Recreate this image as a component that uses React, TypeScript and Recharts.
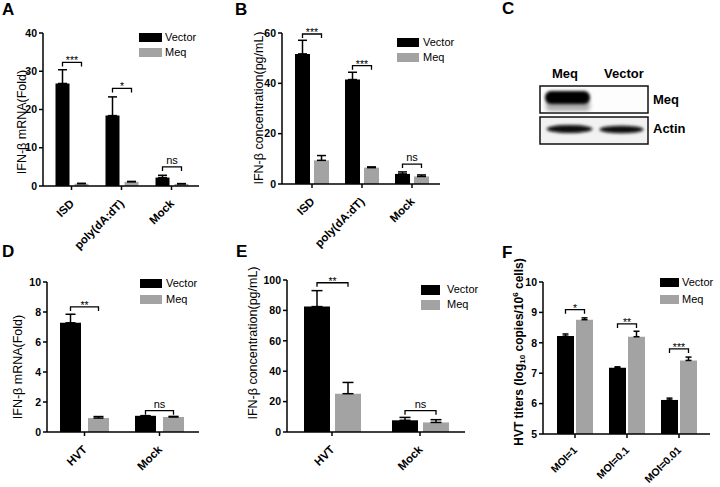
import React from 'react';
import { BarChart, Bar, XAxis, YAxis, ErrorBar, LabelList, Legend } from 'recharts';

const FONT = '"Liberation Sans", Arial, Helvetica, sans-serif';
const BLACK = '#000000';
const GREY = '#a3a3a3';
const seriesOrder = ['Vector', 'Meq'];

// panel A - IFN-b mRNA, DNA stimuli
const catsA = ['ISD', 'poly(dA:dT)', 'Mock'];
const vecA = [26.8, 18.4, 2.2];
const vecErrA = [3.6, 4.9, 0.6];
const meqA = [0.6, 1.1, 0.55];
const meqErrA = [0.1, 0.1, 0.08];
const sigA = ['***', '*', 'ns'];
const sigLevelA = [32.3, 25.5, 5.0];
const ticksA = [0, 10, 20, 30, 40];

// panel B - IFN-b protein, DNA stimuli
const catsB = ['ISD', 'poly(dA:dT)', 'Mock'];
const vecB = [51.7, 41.5, 4.0];
const vecErrB = [5.4, 2.9, 0.8];
const meqB = [9.4, 6.5, 3.0];
const meqErrB = [1.9, 0.3, 0.6];
const sigB = ['***', '***', 'ns'];
const sigLevelB = [59.6, 47.0, 7.9];
const ticksB = [0, 20, 40, 60];

// panel D - IFN-b mRNA, HVT
const catsD = ['HVT', 'Mock'];
const vecD = [7.28, 1.08];
const vecErrD = [0.57, 0.01];
const meqD = [0.93, 1.0];
const meqErrD = [0.1, 0.04];
const sigD = ['**', 'ns'];
const sigLevelD = [8.34, 1.42];
const ticksD = [0, 2, 4, 6, 8, 10];

// panel E - IFN-b protein, HVT
const catsE = ['HVT', 'Mock'];
const vecE = [82.5, 7.7];
const vecErrE = [10.5, 1.9];
const meqE = [25.2, 6.3];
const meqErrE = [7.4, 1.8];
const sigE = ['**', 'ns'];
const sigLevelE = [98.2, 14.0];
const ticksE = [0, 20, 40, 60, 80, 100];

// panel F - HVT titers
const catsF = ['MOI=1', 'MOI=0.1', 'MOI=0.01'];
const vecF = [8.22, 7.18, 6.12];
const vecErrF = [0.07, 0.03, 0.06];
const meqF = [8.76, 8.2, 7.42];
const meqErrF = [0.06, 0.18, 0.11];
const sigF = ['*', '**', '***'];
const sigLevelF = [9.09, 8.62, 7.8];
const ticksF = [5, 6, 7, 8, 9, 10];

const xTickStyle = (size: number, dy: number) => ({
  angle: -45, textAnchor: 'end', verticalAnchor: 'end', dx: -2.5, dy,
  fontFamily: FONT, fontWeight: 'bold', fontSize: size, fill: '#000',
});

function Panel({ cfg }: { cfg: any }) {
  const rows = cfg.cats.map((c: string, i: number) => ({
    name: c,
    vector: cfg.vec[i],
    vectorErr: [0, cfg.vecErr[i]],
    meq: cfg.meq[i],
    meqErr: [0, cfg.meqErr[i]],
  }));
  const min = cfg.ticks[0];

  // significance bracket, drawn from the Vector bar's geometry
  const bracket = (p: any) => {
    const vb = p.viewBox || {};
    const x = Number(p.x ?? vb.x);
    const y = Number(p.y ?? vb.y);
    const w = Number(p.width ?? vb.width);
    const h = Number(p.height ?? vb.height);
    let i = p.index;
    if (i == null) i = cfg.vec.indexOf(Number(p.value));
    if (i < 0 || isNaN(x)) return null;
    const base = y + h;
    const per = h / (cfg.vec[i] - min);
    const ly = base - (cfg.sigLevel[i] - min) * per;
    const x1 = x + w / 2;
    const x2 = x + w * 1.5 + cfg.barGap;
    const mark = cfg.sig[i];
    const isNs = mark === 'ns';
    return (
      <g>
        <path d={`M${x1},${ly + 4}V${ly}H${x2}V${ly + 4}`} fill="none" stroke="#000" strokeWidth={1.3} />
        <text x={(x1 + x2) / 2} y={isNs ? ly - 3 : ly + 2} textAnchor="middle" fontFamily={FONT}
          fontSize={isNs ? 11 : 10.5} fill="#000">{mark}</text>
      </g>
    );
  };

  const lg = cfg.legend;
  const legendContent = (props: any) => {
    const items = (props.payload || []).slice().sort(
      (a: any, b: any) => seriesOrder.indexOf(a.value) - seriesOrder.indexOf(b.value));
    return (
      <div style={{ position: 'absolute', left: lg.x, top: lg.y, fontFamily: FONT, fontSize: 11 }}>
        {items.map((it: any, k: number) => (
          <div key={k} style={{ display: 'flex', alignItems: 'center', height: lg.bh, marginBottom: lg.gap }}>
            <span style={{ display: 'inline-block', width: lg.bw, height: lg.bh, background: it.color }} />
            <span style={{ marginLeft: lg.tx, lineHeight: 1, color: '#000', whiteSpace: 'nowrap' }}>{it.value}</span>
          </div>
        ))}
      </div>
    );
  };

  return (
    <div style={{ position: 'absolute', left: cfg.left, top: cfg.top }}>
      <BarChart width={cfg.width} height={cfg.height} data={rows}
        margin={{ top: cfg.mt, right: cfg.mr, left: 0, bottom: 0 }}
        barGap={cfg.barGap} barSize={cfg.barSize}>
        <XAxis dataKey="name" height={cfg.xh} tick={xTickStyle(cfg.xfs, cfg.xdy)} tickSize={4} tickMargin={2}
          interval={0} padding={cfg.pad} axisLine={{ stroke: '#000', strokeWidth: 1.5 }}
          tickLine={{ stroke: '#000', strokeWidth: 1.5 }} />
        <YAxis width={cfg.yw} domain={[cfg.ticks[0], cfg.ticks[cfg.ticks.length - 1]]} ticks={cfg.ticks}
          interval={0} allowDataOverflow tickSize={4} tickMargin={2}
          axisLine={{ stroke: '#000', strokeWidth: 1.5 }} tickLine={{ stroke: '#000', strokeWidth: 1.5 }}
          tick={{ fontSize: 10.5, fontWeight: 'bold', fill: '#000', fontFamily: FONT }} />
        <Legend layout="horizontal" verticalAlign="middle" align="center" content={legendContent}
          wrapperStyle={{ position: 'absolute', left: 0, top: 0, width: cfg.width, height: 0 }} />
        <Bar dataKey="vector" name="Vector" fill={BLACK} isAnimationActive={false}>
          <ErrorBar dataKey="vectorErr" width={cfg.cap} stroke="#000" strokeWidth={1.5} direction="y" />
          <LabelList dataKey="vector" content={bracket} />
        </Bar>
        <Bar dataKey="meq" name="Meq" fill={GREY} isAnimationActive={false}>
          <ErrorBar dataKey="meqErr" width={cfg.cap} stroke="#000" strokeWidth={1.5} direction="y" />
        </Bar>
      </BarChart>
    </div>
  );
}

const panelA = {
  left: 0, top: 0, width: 230, height: 252, mt: 33, mr: 31, yw: 43, xh: 66, xfs: 11.5, xdy: 6.5,
  pad: { left: 3.5, right: 2.5 }, barSize: 14, barGap: 5, cap: 4.5,
  cats: catsA, vec: vecA, vecErr: vecErrA, meq: meqA, meqErr: meqErrA, sig: sigA, sigLevel: sigLevelA, ticks: ticksA,
  legend: { x: 139, y: 33, bw: 23, bh: 9, gap: 6, tx: 3 },
};
const panelB = {
  left: 230, top: 0, width: 240, height: 252, mt: 33, mr: 30, yw: 52, xh: 68, xfs: 11.5, xdy: 6.5,
  pad: { left: 5, right: 3 }, barSize: 15, barGap: 4, cap: 4.5,
  cats: catsB, vec: vecB, vecErr: vecErrB, meq: meqB, meqErr: meqErrB, sig: sigB, sigLevel: sigLevelB, ticks: ticksB,
  legend: { x: 167, y: 38, bw: 22, bh: 9, gap: 6, tx: 4 },
};
const panelD = {
  left: 0, top: 240, width: 230, height: 247, mt: 42, mr: 31, yw: 47, xh: 55, xfs: 11.5, xdy: 6.5,
  pad: { left: 0, right: 2 }, barSize: 21, barGap: 7, cap: 5,
  cats: catsD, vec: vecD, vecErr: vecErrD, meq: meqD, meqErr: meqErrD, sig: sigD, sigLevel: sigLevelD, ticks: ticksD,
  legend: { x: 140, y: 39, bw: 22, bh: 9, gap: 7, tx: 4 },
};
const panelE = {
  left: 230, top: 240, width: 250, height: 247, mt: 40, mr: 15, yw: 57, xh: 55, xfs: 11.5, xdy: 6.5,
  pad: { left: 1, right: 1 }, barSize: 26, barGap: 5, cap: 5.5,
  cats: catsE, vec: vecE, vecErr: vecErrE, meq: meqE, meqErr: meqErrE, sig: sigE, sigLevel: sigLevelE, ticks: ticksE,
  legend: { x: 191, y: 45, bw: 19, bh: 9.5, gap: 5.5, tx: 7 },
};
const panelF = {
  left: 480, top: 240, width: 240, height: 247, mt: 42, mr: 10, yw: 63, xh: 53, xfs: 10.5, xdy: 5.5,
  pad: { left: 6, right: 5 }, barSize: 17, barGap: 2, cap: 3,
  cats: catsF, vec: vecF, vecErr: vecErrF, meq: meqF, meqErr: meqErrF, sig: sigF, sigLevel: sigLevelF, ticks: ticksF,
  legend: { x: 180, y: 38, bw: 19, bh: 9, gap: 8, tx: 3 },
};

const YLabel = ({ x, y, text, size = 12.5 }: any) => (
  <text x={x} y={y} transform={`rotate(-90 ${x} ${y})`} textAnchor="middle" dominantBaseline="central"
    fontFamily={FONT} fontSize={size} fill="#000">{text}</text>
);

const Letter = ({ x, y, t }: any) => (
  <text x={x} y={y} fontFamily={FONT} fontWeight="bold" fontSize={17} fill="#000">{t}</text>
);

function Overlay() {
  return (
    <svg width={720} height={487} style={{ position: 'absolute', left: 0, top: 0, pointerEvents: 'none' }}>
      <defs>
        <filter id="blur1" x="-20%" y="-50%" width="140%" height="200%">
          <feGaussianBlur stdDeviation="1.4" />
        </filter>
        <filter id="blur2" x="-20%" y="-50%" width="140%" height="200%">
          <feGaussianBlur stdDeviation="2.2" />
        </filter>
      </defs>
      <Letter x={2} y={15} t="A" />
      <Letter x={235} y={15} t="B" />
      <Letter x={502} y={14} t="C" />
      <Letter x={2} y={257} t="D" />
      <Letter x={236} y={257} t="E" />
      <Letter x={502} y={258} t="F" />

      <YLabel x={22} y={122} text="IFN-β mRNA(Fold)" />
      <YLabel x={259} y={108} text="IFN-β concentration(pg/mL)" />
      <YLabel x={18} y={367} text="IFN-β mRNA(Fold)" />
      <YLabel x={253} y={343} text="IFN-β concentration(pg/mL)" />
      <text x={519} y={352} transform="rotate(-90 519 352)" textAnchor="middle" dominantBaseline="central"
        fontFamily={FONT} fontSize={12} fontWeight="bold" fill="#000">
        HVT titers (log<tspan dy={3} fontSize={8}>10</tspan><tspan dy={-3}> copies/10</tspan>
        <tspan dy={-4} fontSize={8}>6</tspan><tspan dy={4}> cells)</tspan>
      </text>

      {/* western blot */}
      <g fontFamily={FONT} fontWeight="bold" fontSize={13} fill="#000">
        <text x={552} y={78}>Meq</text>
        <text x={604} y={78}>Vector</text>
        <text x={653} y={104}>Meq</text>
        <text x={653} y={133}>Actin</text>
      </g>
      <rect x={540} y={86} width={108} height={27} fill="#fdfdfd" stroke="#111" strokeWidth={1.5} />
      <rect x={546} y={100} width={44} height={11} rx={4} fill="#777" opacity={0.6} filter="url(#blur2)" />
      <rect x={545} y={91} width={45} height={13} rx={6} fill="#050505" filter="url(#blur1)" />
      <rect x={540} y={117} width={108} height={27} fill="#f1f1f1" stroke="#111" strokeWidth={1.5} />
      <ellipse cx={569.5} cy={129} rx={23} ry={4} fill="#080808" filter="url(#blur1)" />
      <ellipse cx={621.5} cy={129.5} rx={22} ry={3.8} fill="#0a0a0a" filter="url(#blur1)" />
    </svg>
  );
}

export default function App() {
  return (
    <div style={{ position: 'absolute', left: 0, top: 0, width: 720, height: 487, background: '#fff', overflow: 'hidden' }}>
      <Panel cfg={panelA} />
      <Panel cfg={panelB} />
      <Panel cfg={panelD} />
      <Panel cfg={panelE} />
      <Panel cfg={panelF} />
      <Overlay />
    </div>
  );
}
